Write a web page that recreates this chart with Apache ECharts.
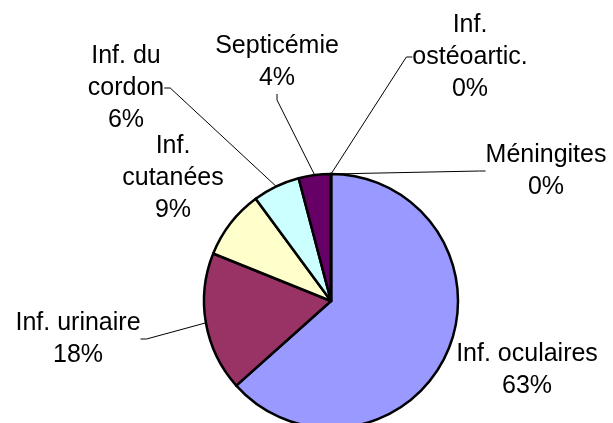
<!DOCTYPE html>
<html>
<head>
<meta charset="utf-8">
<script src="https://cdn.jsdelivr.net/npm/echarts@6/dist/echarts.min.js"></script>
<style>
html, body { margin: 0; padding: 0; background: #fff; }
#chart { width: 613px; height: 423px; }
</style>
</head>
<body>
<div id="chart"></div>
<script>
// catégories (dans l'ordre des secteurs, depuis midi, sens horaire)
var categories = ['Inf. oculaires', 'Inf. urinaire', 'Inf.\ncutanées', 'Inf. du\ncordon', 'Septicémie', 'Inf.\nostéoartic.', 'Méningites']
var values = [63.4, 17.7, 8.8, 6.0, 4.1, 0, 0]
var colors = ['#9999FF', '#993366', '#FFFFCC', '#CCFFFF', '#660066', '#0066CC', '#FF8080']
var showLine = [false, true, false, true, true, true, true]

// position des étiquettes (centre du bloc de texte)
var labelPos = [[527, 370], [78, 339], [173, 178], [126, 88], [277, 62], [470, 57], [546, 171]]

var chart = echarts.init(document.getElementById('chart'))

var pieData = []
for(var i = 0; i < categories.length; i ++) {
	pieData.push({
		name: categories[i],
		value: values[i],
		itemStyle: { color: colors[i] },
		labelLine: { show: showLine[i] }
	})
}

var option = {
	backgroundColor: '#fff',
	animation: false,
	series: [{
		type: 'pie',
		center: [331, 301],
		radius: 127,
		startAngle: 90,
		clockwise: true,
		avoidLabelOverlap: false,
		percentPrecision: 0,
		data: pieData,
		itemStyle: {
			borderColor: '#000',
			borderWidth: 2.5
		},
		label: {
			show: true,
			position: 'outside',
			formatter: '{b}\n{d}%',
			fontFamily: '"Liberation Sans", Arial, sans-serif',
			fontSize: 25,
			lineHeight: 32,
			color: '#000',
			align: 'center'
		},
		labelLine: {
			length: 10,
			length2: 6,
			smooth: false,
			lineStyle: { color: '#000', width: 1 }
		},
		labelLayout: function(params) {
			var p = labelPos[params.dataIndex]
			return { x: p[0], y: p[1], align: 'center', verticalAlign: 'middle' }
		}
	}]
}

chart.setOption(option)
</script>
</body>
</html>
